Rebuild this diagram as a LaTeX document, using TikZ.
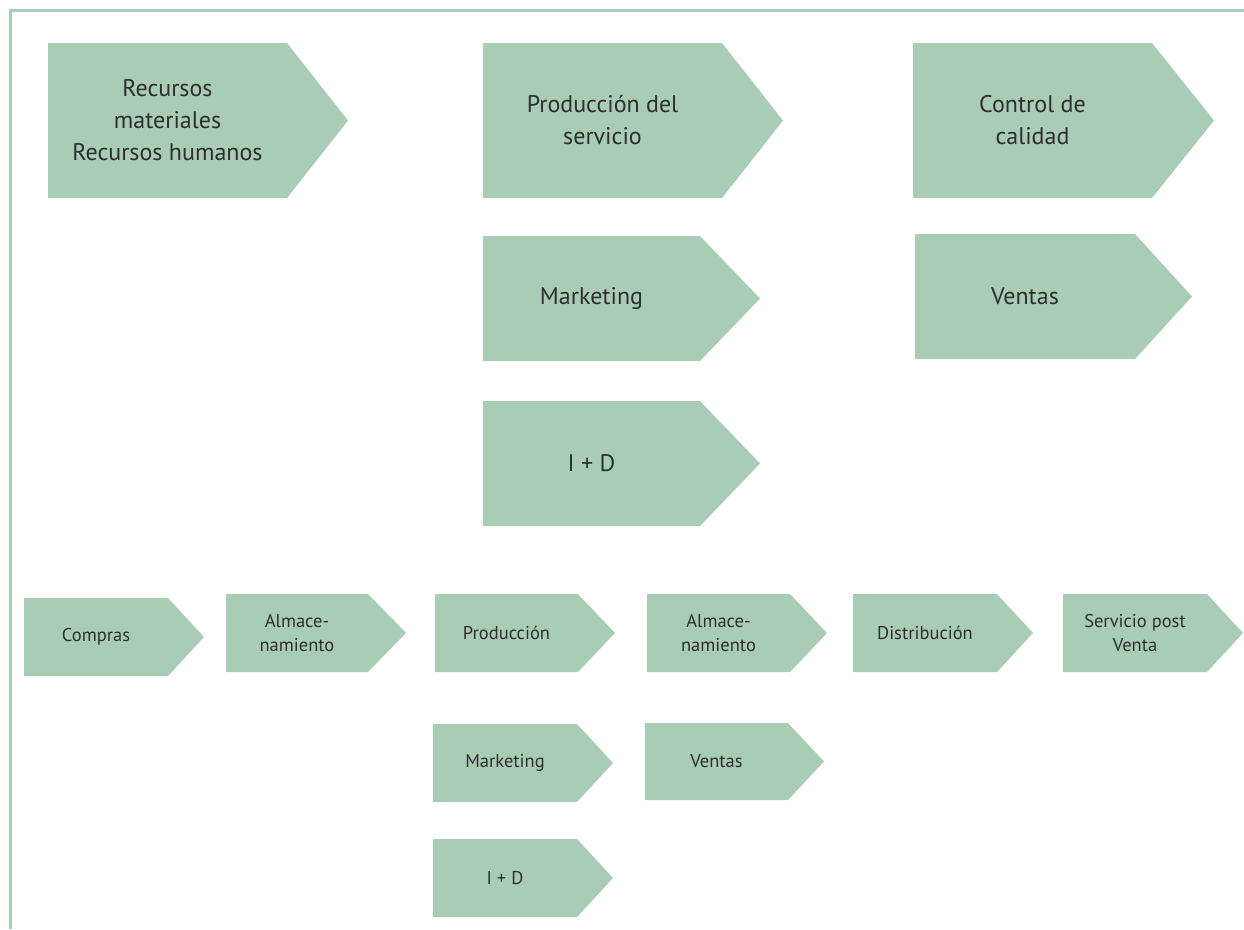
\documentclass[tikz,border=0pt]{standalone}
\usepackage{fontspec}
\setmainfont{PT Sans}
\definecolor{boxgreen}{HTML}{A9CCB5}
\definecolor{txtgray}{HTML}{2E2E2E}
\tikzset{
  boxfill/.style={fill=boxgreen},
  bigtxt/.style={text=txtgray, font=\fontsize{24}{32}\selectfont, align=center, inner sep=0pt},
  smalltxt/.style={text=txtgray, font=\fontsize{18.5}{24}\selectfont, align=center, inner sep=0pt},
  frameline/.style={draw=boxgreen, line width=3pt}
}
% #1 name, #2 left, #3 top, #4 bottom, #5 notch, #6 tip, #7 text style, #8 text
\newcommand{\chevbox}[8]{%
  \fill[boxfill] (#2,#3) -- (#5,#3) -- (#6,{(#3+#4)/2}) -- (#5,#4) -- (#2,#4) -- cycle;
  \node[#7] (#1) at ({(#2+#5)/2},{(#3+#4)/2}) {#8};
}
\begin{document}
\begin{tikzpicture}[x=1pt,y=-1pt]
\useasboundingbox (0,0) rectangle (1244,929);
\draw[frameline] (10,929) -- (10,10) -- (1244,10);
% top part
\chevbox{rec}{48}{43}{198}{287}{348}{bigtxt}{Recursos\\materiales\\Recursos humanos}
\chevbox{prodserv}{483}{43}{198}{722}{783}{bigtxt}{Producción del\\servicio}
\chevbox{control}{913}{43}{198}{1152}{1214}{bigtxt}{Control de\\calidad}
\chevbox{mkt}{483}{236}{361}{700}{760}{bigtxt}{Marketing}
\chevbox{ventas}{915}{234}{359}{1135}{1192}{bigtxt}{Ventas}
\chevbox{id}{483}{401}{526}{700}{760}{bigtxt}{I + D}
% bottom part
\chevbox{compras}{24}{598}{676}{168}{204}{smalltxt}{Compras}
\chevbox{alm1}{226}{594}{672}{368}{406}{smalltxt}{Almace-\\namiento}
\chevbox{prod}{435}{594}{672}{578}{615}{smalltxt}{Producción}
\chevbox{alm2}{647}{594}{672}{790}{827}{smalltxt}{Almace-\\namiento}
\chevbox{dist}{853}{594}{672}{997}{1033}{smalltxt}{Distribución}
\chevbox{post}{1063}{594}{672}{1207}{1243}{smalltxt}{Servicio post\\Venta}
\chevbox{mkt2}{433}{724}{802}{577}{613}{smalltxt}{Marketing}
\chevbox{ventas2}{645}{723}{800}{788}{824}{smalltxt}{Ventas}
\chevbox{id2}{433}{839}{917}{577}{613}{smalltxt}{I + D}
\end{tikzpicture}
\end{document}
